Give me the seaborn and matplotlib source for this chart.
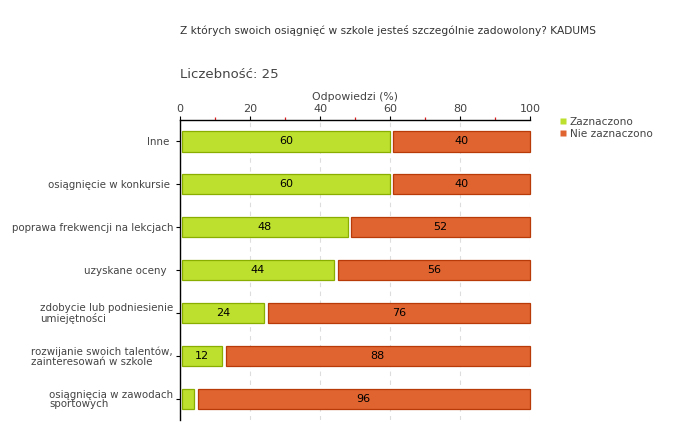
import pandas as pd
import matplotlib.pyplot as plt
import seaborn as sns
from matplotlib.ticker import MultipleLocator
from matplotlib.lines import Line2D

sns.set_theme(style="white")
plt.rcParams["font.family"] = ["DejaVu Sans"]

# Dane
kategorie = [
    "Inne ",
    "osiągnięcie w konkursie ",
    "poprawa frekwencji na lekcjach",
    "uzyskane oceny  ",
    "zdobycie lub podniesienie\numiejętności",
    "rozwijanie swoich talentów,\nzainteresowań w szkole",
    "osiągnięcia w zawodach\nsportowych",
]
zaznaczono = [60, 60, 48, 44, 24, 12, 4]
nie_zaznaczono = [40, 40, 52, 56, 76, 88, 96]
serie = ["Zaznaczono", "Nie zaznaczono"]

zielony, zielony_kraw = "#bde02f", "#8aae00"
czerwony, czerwony_kraw = "#e06430", "#b83a08"
tekst = "#444444"

df = pd.DataFrame({"kategoria": kategorie, "zazn": zaznaczono, "nie": nie_zaznaczono})

fig = plt.figure(figsize=(6.8, 4.4), dpi=100)
ax = fig.add_axes([180 / 680, 1 - 420 / 440, 350 / 680, 300 / 440])

sns.barplot(data=df, y="kategoria", x="zazn", color=zielony, edgecolor=zielony_kraw,
            linewidth=0.9, width=0.47, saturation=1, ax=ax)
sns.barplot(data=df, y="kategoria", x="nie", color=czerwony, edgecolor=czerwony_kraw,
            linewidth=0.9, width=0.47, saturation=1, ax=ax)

zielone = ax.containers[0]
czerwone = ax.containers[1]
# przesunięcie słupków: mały odstęp od osi i między segmentami
for p, z in zip(zielone.patches, zaznaczono):
    p.set_x(0.6)
    p.set_width(z - 0.6)
    p.set_clip_on(False)
for p, z, n in zip(czerwone.patches, zaznaczono, nie_zaznaczono):
    p.set_x(z + 1.0)
    p.set_width(n - 1.0)
    p.set_clip_on(False)

ax.bar_label(zielone, labels=[str(v) if v >= 10 else "" for v in zaznaczono],
             label_type="center", fontsize=8, color="black")
ax.bar_label(czerwone, labels=[str(v) if v >= 10 else "" for v in nie_zaznaczono],
             label_type="center", fontsize=8, color="black")

ax.set_xlim(0, 100)
ax.set_ylim(6.5, -0.5)
ax.xaxis.set_ticks_position("top")
ax.xaxis.set_label_position("top")
ax.xaxis.set_major_locator(MultipleLocator(20))
ax.xaxis.set_minor_locator(MultipleLocator(10))
ax.tick_params(axis="x", which="major", direction="out", length=3, width=0.8,
               color="black", labelsize=8, labelcolor=tekst, pad=1, top=True)
ax.tick_params(axis="x", which="minor", direction="out", length=2.5, width=0.9,
               color="#e02020", top=True)
ax.tick_params(axis="y", direction="out", length=3, width=0.8, color="black",
               labelsize=7.4, labelcolor=tekst, pad=2, left=True)
for lab in ax.get_yticklabels():
    lab.set_multialignment("left")
    lab.set_linespacing(0.95)

ax.set_xlabel("Odpowiedzi (%)", fontsize=7.8, color=tekst, labelpad=3)
ax.set_ylabel("")
ax.grid(axis="x", which="major", color="#dddddd", linestyle=(0, (4, 4)), linewidth=0.8)
ax.set_axisbelow(True)
for s in ["right", "bottom"]:
    ax.spines[s].set_visible(False)
for s in ["top", "left"]:
    ax.spines[s].set_color("black")
    ax.spines[s].set_linewidth(1.0)

fig.text(180 / 680, 1 - 30 / 440, "Z których swoich osiągnięć w szkole jesteś szczególnie zadowolony? KADUMS",
         fontsize=7.7, color="#333333", va="center", ha="left")
fig.text(180 / 680, 1 - 75 / 440, "Liczebność: 25", fontsize=9.5, color=tekst, va="center", ha="left")

uchwyty = [Line2D([], [], marker="s", linestyle="", markersize=5, markerfacecolor=c,
                  markeredgecolor="none") for c in (zielony, czerwony)]
fig.legend(uchwyty, serie, loc="upper left", bbox_to_anchor=(560 / 680, 1 - 117 / 440),
           frameon=False, fontsize=7.6, handlelength=0.6, handletextpad=0.3,
           labelspacing=0.2, borderaxespad=0, borderpad=0, labelcolor=tekst)

fig.savefig("out.png", dpi=100)
